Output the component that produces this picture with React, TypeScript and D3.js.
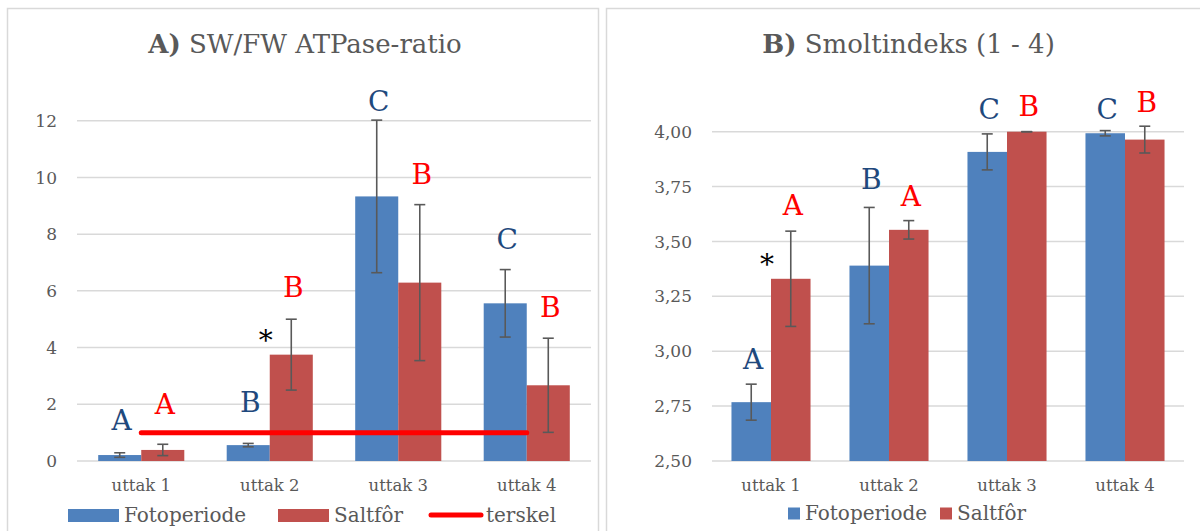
import * as d3 from 'd3'

const categories = ['uttak 1', 'uttak 2', 'uttak 3', 'uttak 4']
const seriesNames = ['Fotoperiode', 'Saltfôr']
const seriesColors = ['#4F81BD', '#C0504D']
const letterColors = ['#1F497D', '#FF0000']

// A) SW/FW ATPase-ratio
const atpFoto = [0.21, 0.56, 9.33, 5.56]
const atpFotoErr = [0.08, 0.06, 2.69, 1.19]
const atpSalt = [0.39, 3.75, 6.29, 2.67]
const atpSaltErr = [0.2, 1.25, 2.75, 1.66]
const atpTerskel = [1, 1, 1, 1]
const atpTicks = [0, 2, 4, 6, 8, 10, 12]
const atpFotoLetters = ['A', 'B', 'C', 'C']
const atpFotoLetterAt = [1.09, 1.72, 12.35, 7.46]
const atpSaltLetters = ['A', 'B', 'B', 'B']
const atpSaltLetterAt = [1.65, 5.77, 9.78, 5.07]
const atpStarCategory = 'uttak 2'
const atpStarAt = 3.9

// B) Smoltindeks (1 - 4)
const smoltFoto = [2.768, 3.39, 3.908, 3.993]
const smoltFotoErr = [0.082, 0.265, 0.082, 0.012]
const smoltSalt = [3.33, 3.553, 4.0, 3.964]
const smoltSaltErr = [0.217, 0.042, 0.0, 0.061]
const smoltTicks = [2.5, 2.75, 3.0, 3.25, 3.5, 3.75, 4.0]
const smoltFotoLetters = ['A', 'B', 'C', 'C']
const smoltFotoLetterAt = [2.92, 3.74, 4.06, 4.06]
const smoltSaltLetters = ['A', 'A', 'B', 'B']
const smoltSaltLetterAt = [3.62, 3.66, 4.07, 4.09]
const smoltStarCategory = 'uttak 1'
const smoltStarAt = 3.35

const FONT = '"DejaVu Serif", serif'
const GREY = '#595959'
const GRID = '#D9D9D9'

const commaLocale = d3.formatLocale({ decimal: ',', thousands: ' ', grouping: [3], currency: ['', ' kr'] })

function Panel({ box, plot, title, domain, ticks, tickFormat, values, errors, letters, letterAt, star, terskel, legend, legendY }) {
    const x0 = d3.scaleBand().domain(categories).range([plot.left, plot.right]).paddingInner(0.33).paddingOuter(0.165)
    const x1 = d3.scaleBand().domain(seriesNames).range([0, x0.bandwidth()])
    const y = d3.scaleLinear().domain(domain).range([plot.bottom, plot.top])
    const barCenter = (s, j) => x0(categories[j]) + x1(seriesNames[s]) + x1.bandwidth() / 2

    const terskelPath = terskel
        ? d3
              .line()
              .x((_, i) => x0(categories[i]) + x0.bandwidth() / 2)
              .y((d) => y(d))(terskel)
        : null

    return (
        <g fontFamily={FONT}>
            <rect x={box.x} y={box.y} width={box.w} height={box.h} fill="#fff" stroke={GRID} strokeWidth={1.5} />
            <text x={box.x + box.w / 2 + 2} y={53} textAnchor="middle" fontSize={26} fill={GREY}>
                <tspan fontWeight="bold">{title[0]}</tspan> {title[1]}
            </text>

            {ticks.map((t) => (
                <g key={t}>
                    <line x1={plot.left} x2={plot.right} y1={y(t)} y2={y(t)} stroke={GRID} strokeWidth={1.5} />
                    <text x={plot.left - 20} y={y(t)} dy="0.36em" textAnchor="end" fontSize={17} fill={GREY}>
                        {tickFormat(t)}
                    </text>
                </g>
            ))}

            {values.map((series, s) =>
                series.map((v, j) => (
                    <rect
                        key={`${s}-${j}`}
                        x={x0(categories[j]) + x1(seriesNames[s])}
                        y={y(v)}
                        width={x1.bandwidth()}
                        height={y(domain[0]) - y(v)}
                        fill={seriesColors[s]}
                    />
                ))
            )}

            {terskelPath && <path d={terskelPath} fill="none" stroke="#FF0000" strokeWidth={5} strokeLinecap="round" />}

            {values.map((series, s) =>
                series.map((v, j) => {
                    const cx = barCenter(s, j)
                    const lo = y(v - errors[s][j])
                    const hi = y(v + errors[s][j])
                    return (
                        <g key={`e${s}-${j}`} stroke={GREY} strokeWidth={1.6}>
                            <line x1={cx} x2={cx} y1={lo} y2={hi} />
                            <line x1={cx - 5.5} x2={cx + 5.5} y1={lo} y2={lo} />
                            <line x1={cx - 5.5} x2={cx + 5.5} y1={hi} y2={hi} />
                        </g>
                    )
                })
            )}

            {letters.map((series, s) =>
                series.map((l, j) => (
                    <text
                        key={`l${s}-${j}`}
                        x={barCenter(s, j) + 2}
                        y={y(letterAt[s][j])}
                        textAnchor="middle"
                        fontSize={28}
                        fill={letterColors[s]}
                    >
                        {l}
                    </text>
                ))
            )}

            <text
                x={x0(star.category) + x0.bandwidth() / 2 - 4}
                y={y(star.at)}
                textAnchor="middle"
                fontSize={28}
                fill="#000"
            >
                *
            </text>

            {categories.map((c) => (
                <text key={c} x={x0(c) + x0.bandwidth() / 2} y={491} textAnchor="middle" fontSize={16.5} fill={GREY}>
                    {c}
                </text>
            ))}

            {legend.map((item) => (
                <g key={item.label}>
                    {item.kind === 'line' ? (
                        <line
                            x1={item.x}
                            x2={item.x + item.w}
                            y1={legendY - 7}
                            y2={legendY - 7}
                            stroke={item.color}
                            strokeWidth={5}
                            strokeLinecap="round"
                        />
                    ) : (
                        <rect x={item.x} y={legendY - 13 - (item.h - 13) / 2} width={item.w} height={item.h} fill={item.color} />
                    )}
                    <text x={item.x + item.w + 5} y={legendY} fontSize={20} fill={GREY}>
                        {item.label}
                    </text>
                </g>
            ))}
        </g>
    )
}

export default function App() {
    return (
        <svg width={1200} height={531} style={{ position: 'absolute', left: 0, top: 0, background: '#fff' }}>
            <Panel
                box={{ x: 7.5, y: 8.5, w: 591, h: 540 }}
                plot={{ left: 77, right: 591, top: 120.7, bottom: 461 }}
                title={['A)', 'SW/FW ATPase-ratio']}
                domain={[0, 12]}
                ticks={atpTicks}
                tickFormat={(t) => String(t)}
                values={[atpFoto, atpSalt]}
                errors={[atpFotoErr, atpSaltErr]}
                letters={[atpFotoLetters, atpSaltLetters]}
                letterAt={[atpFotoLetterAt, atpSaltLetterAt]}
                star={{ category: atpStarCategory, at: atpStarAt }}
                terskel={atpTerskel}
                legendY={522}
                legend={[
                    { label: seriesNames[0], kind: 'rect', color: seriesColors[0], x: 68, w: 51, h: 13 },
                    { label: seriesNames[1], kind: 'rect', color: seriesColors[1], x: 278, w: 51, h: 13 },
                    { label: 'terskel', kind: 'line', color: '#FF0000', x: 431, w: 50, h: 5 },
                ]}
            />
            <Panel
                box={{ x: 606.5, y: 8.5, w: 600, h: 540 }}
                plot={{ left: 712, right: 1184, top: 131.7, bottom: 461 }}
                title={['B)', 'Smoltindeks (1 - 4)']}
                domain={[2.5, 4]}
                ticks={smoltTicks}
                tickFormat={commaLocale.format('.2f')}
                values={[smoltFoto, smoltSalt]}
                errors={[smoltFotoErr, smoltSaltErr]}
                letters={[smoltFotoLetters, smoltSaltLetters]}
                letterAt={[smoltFotoLetterAt, smoltSaltLetterAt]}
                star={{ category: smoltStarCategory, at: smoltStarAt }}
                terskel={null}
                legendY={520}
                legend={[
                    { label: seriesNames[0], kind: 'rect', color: seriesColors[0], x: 788, w: 12, h: 12 },
                    { label: seriesNames[1], kind: 'rect', color: seriesColors[1], x: 940, w: 12, h: 12 },
                ]}
            />
        </svg>
    )
}
